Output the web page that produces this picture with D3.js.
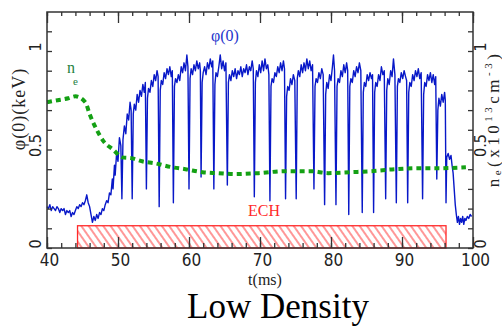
<!DOCTYPE html>
<html><head><meta charset="utf-8">
<script src="https://cdn.jsdelivr.net/npm/d3@7"></script>
<style>
body{margin:0;background:#fff}svg{display:block}
.serif{font-family:"Liberation Serif","Times New Roman",Times,"DejaVu Serif",serif}
.narrow{font-family:"Liberation Sans Narrow","DejaVu Sans Condensed","Liberation Sans",sans-serif}
</style>
</head><body><svg id="c" width="502" height="326"></svg>
<script>
// ---- data ----
const timeTicks = [40, 50, 60, 70, 80, 90, 100];
const timeMinorTicks = [40,42,44,46,48,50,52,54,56,58,60,62,64,66,68,70,72,74,76,78,80,82,84,86,88,90,92,94,96,98,100];
const valueTicks = [0, 0.5, 1];
const valueMinorTicks = [0,0.1,0.2,0.3,0.4,0.5,0.6,0.7,0.8,0.9,1.0,1.1];
const echWindow = [44.3, 96.2];
const echLevel = 0.113;
const neT = [40, 41.5, 43, 44, 45.4, 46, 47, 48, 49.3, 50.6, 52, 53.4, 55.2, 57.6, 59.5, 61.9, 64.1, 66.5, 69.8, 73.5, 77.2, 79.6, 82.9, 85.7, 89, 92.7, 95.1, 99];
const neV = [.74, .75, .76, .77, .74, .68, .60, .54, .50, .46, .455, .44, .43, .41, .40, .385, .38, .375, .38, .39, .39, .38, .385, .39, .40, .405, .405, .41];
const phiData = [
[40.0,.21],[40.2,.20],[40.4,.22],[40.6,.19],[40.8,.21],[41.0,.20],[41.2,.19],[41.4,.21],[41.6,.20],[41.8,.18],
[42.0,.20],[42.2,.19],[42.4,.20],[42.6,.17],[42.8,.19],[43.0,.18],[43.2,.19],[43.4,.16],[43.6,.18],[43.8,.17],
[44.0,.19],[44.2,.21],[44.4,.20],[44.6,.22],[44.8,.21],[45.0,.23],[45.2,.22],[45.4,.24],[45.6,.27],[45.8,.23],
[46.0,.21],[46.2,.17],[46.4,.13],[46.6,.16],[46.8,.14],[47.0,.17],[47.2,.15],[47.4,.18],[47.6,.17],[47.8,.20],
[48.0,.19],[48.2,.22],[48.4,.24],[48.6,.23],[48.8,.28],[49.0,.27],[49.2,.35],[49.3,.30],[49.5,.42],[49.6,.37],
[49.8,.48],[50.0,.44],[50.2,.56],[50.4,.52],[50.55,.25],[50.7,.55],[50.9,.62],[51.1,.58],[51.3,.68],[51.5,.65],
[51.7,.74],[51.85,.70],[52.0,.25],[52.15,.68],[52.3,.73],[52.5,.70],[52.7,.78],[52.9,.74],[53.1,.80],[53.3,.77],
[53.5,.83],[53.7,.79],[53.85,.84],[54.0,.30],[54.15,.76],[54.3,.81],[54.5,.79],[54.7,.85],[54.9,.82],[55.1,.88],
[55.3,.85],[55.5,.90],[55.65,.87],[55.8,.21],[55.95,.80],[56.1,.85],[56.3,.83],[56.5,.89],[56.7,.86],[56.9,.91],
[57.1,.88],[57.3,.92],[57.5,.87],[57.65,.90],[57.8,.23],[57.95,.82],[58.1,.86],[58.3,.84],[58.5,.88],[58.7,.85],
[58.9,.92],[59.1,.89],[59.3,.94],[59.5,.90],[59.7,.98],[59.85,.92],[60.0,.30],[60.15,.86],[60.3,.91],[60.5,.88],
[60.7,.93],[60.9,.90],[61.1,.95],[61.3,.91],[61.5,.94],[61.6,.90],[61.7,.36],[61.85,.84],[62.0,.89],[62.2,.92],
[62.4,.88],[62.6,.94],[62.8,.91],[63.0,.96],[63.2,.92],[63.35,.95],[63.5,.30],[63.65,.83],[63.8,.89],[64.0,.87],
[64.2,.92],[64.4,.98],[64.6,.91],[64.8,.95],[65.0,.90],[65.2,.94],[65.4,.32],[65.55,.84],[65.7,.88],[65.9,.85],
[66.1,.90],[66.3,.87],[66.5,.91],[66.7,.86],[66.9,.90],[67.1,.88],[67.3,.92],[67.5,.87],[67.7,.91],[67.9,.89],
[68.1,.93],[68.3,.88],[68.5,.92],[68.7,.90],[68.9,.95],[69.05,.91],[69.2,.26],[69.35,.84],[69.5,.90],[69.7,.87],
[69.9,.93],[70.1,.89],[70.3,.95],[70.5,.90],[70.7,.96],[70.9,.91],[71.1,.93],[71.25,.88],[71.4,.24],[71.55,.82],
[71.7,.86],[71.9,.84],[72.1,.89],[72.3,.87],[72.5,.92],[72.7,.89],[72.9,.94],[73.1,.90],[73.3,.95],[73.45,.91],
[73.6,.25],[73.75,.77],[73.9,.82],[74.1,.80],[74.3,.86],[74.5,.83],[74.7,.88],[74.9,.85],[75.1,.25],[75.25,.86],
[75.4,.90],[75.6,.87],[75.8,.93],[76.0,.89],[76.2,.94],[76.4,.90],[76.6,.96],[76.8,.91],[77.0,.95],[77.2,.90],
[77.4,.93],[77.6,.30],[77.75,.82],[77.9,.86],[78.1,.84],[78.3,.89],[78.5,.86],[78.7,.91],[78.9,.88],[79.1,.22],
[79.25,.78],[79.4,.84],[79.6,.81],[79.8,.88],[80.0,.85],[80.2,.92],[80.35,.98],[80.5,.90],[80.7,.22],[80.85,.82],
[81.0,.86],[81.2,.84],[81.4,.90],[81.6,.87],[81.8,.93],[82.0,.89],[82.2,.94],[82.35,.90],[82.5,.17],[82.65,.82],
[82.8,.86],[83.0,.84],[83.2,.90],[83.4,.87],[83.6,.92],[83.8,.89],[84.0,.94],[84.2,.90],[84.4,.18],[84.55,.79],
[84.7,.84],[84.9,.82],[85.1,.88],[85.3,.85],[85.5,.89],[85.7,.86],[85.85,.88],[86.0,.18],[86.15,.79],[86.3,.84],
[86.5,.82],[86.7,.88],[86.9,.85],[87.1,.92],[87.3,.88],[87.5,.90],[87.7,.25],[87.85,.80],[88.0,.86],[88.2,.83],
[88.4,.90],[88.6,.87],[88.8,.96],[89.0,.88],[89.2,.23],[89.35,.82],[89.5,.86],[89.7,.84],[89.9,.89],[90.1,.86],
[90.3,.90],[90.5,.87],[90.65,.85],[90.8,.23],[90.95,.79],[91.1,.84],[91.3,.82],[91.5,.88],[91.7,.85],[91.9,.90],
[92.1,.87],[92.3,.91],[92.5,.86],[92.7,.89],[92.9,.25],[93.05,.78],[93.2,.84],[93.4,.82],[93.6,.88],[93.8,.85],
[94.0,.89],[94.2,.84],[94.4,.88],[94.6,.83],[94.75,.87],[94.9,.35],[95.05,.70],[95.2,.76],[95.4,.72],[95.6,.78],
[95.8,.74],[96.0,.79],[96.1,.75],[96.2,.23],[96.3,.46],[96.5,.48],[96.7,.45],[96.9,.47],[97.05,.42],[97.2,.38],
[97.35,.30],[97.5,.22],[97.65,.17],[97.8,.13],[97.95,.16],[98.1,.12],[98.25,.15],[98.4,.13],[98.55,.16],[98.7,.12],
[98.85,.15],[99.0,.14],[99.2,.16],[99.4,.15],[99.6,.17],[99.8,.16]
];

// ---- layout ----
const L = 47, R = 473, T = 12, B = 248;
const svg = d3.select("#c");
const x = d3.scaleLinear().domain([40, 100]).range([L, R]);
const y = d3.scaleLinear().domain([0, 1]).range([B, 51]);
const axisColor = "#333";

// hatch pattern
const defs = svg.append("defs");
defs.append("pattern").attr("id", "hatch").attr("patternUnits", "userSpaceOnUse")
  .attr("width", 6).attr("height", 10).attr("patternTransform", "rotate(-35)")
  .append("line").attr("x1", 3).attr("y1", 0).attr("x2", 3).attr("y2", 10)
  .attr("stroke", "#ff3030").attr("stroke-width", 1);

// ECH box
svg.append("rect")
  .attr("x", x(echWindow[0])).attr("y", y(echLevel))
  .attr("width", x(echWindow[1]) - x(echWindow[0])).attr("height", y(0) - y(echLevel))
  .attr("fill", "url(#hatch)").attr("stroke", "#ff2a2a").attr("stroke-width", 1.3);

// phi trace
svg.append("path").datum(phiData)
  .attr("d", d3.line().x(d => x(d[0])).y(d => y(d[1])))
  .attr("fill", "none").attr("stroke", "#0818c8").attr("stroke-width", 1.4)
  .attr("stroke-linejoin", "round");

// ne trace
svg.append("path").datum(neT.map((t, i) => [t, neV[i]]))
  .attr("d", d3.line().curve(d3.curveMonotoneX).x(d => x(d[0])).y(d => y(d[1])))
  .attr("fill", "none").attr("stroke", "#14a014").attr("stroke-width", 4)
  .attr("stroke-dasharray", "5 4");

// frame
svg.append("rect").attr("x", L).attr("y", T).attr("width", R - L).attr("height", B - T)
  .attr("fill", "none").attr("stroke", axisColor).attr("stroke-width", 1.5);

function styleAxis(g) {
  g.select(".domain").remove();
  g.selectAll(".tick line").attr("stroke", axisColor).attr("stroke-width", 1.3);
}
// bottom
svg.append("g").attr("transform", `translate(0,${B})`)
  .call(d3.axisBottom(x).tickValues(timeMinorTicks).tickSize(-5).tickFormat(""))
  .call(styleAxis);
svg.append("g").attr("transform", `translate(0,${B})`)
  .call(d3.axisBottom(x).tickValues(timeTicks).tickSize(-11).tickPadding(5).tickFormat(d3.format("d")))
  .call(styleAxis)
  .call(g => g.attr("font-family", null).attr("font-size", null))
  .call(g => g.selectAll(".tick text").attr("class", "narrow").style("font-size", "17px")
    .attr("fill", "#222").attr("dx", 2).attr("y", 6));
// top
svg.append("g").attr("transform", `translate(0,${T})`)
  .call(d3.axisTop(x).tickValues(timeMinorTicks).tickSize(-4).tickFormat(""))
  .call(styleAxis);
svg.append("g").attr("transform", `translate(0,${T})`)
  .call(d3.axisTop(x).tickValues(timeTicks).tickSize(-11).tickFormat(""))
  .call(styleAxis);
// left / right minor ticks
svg.append("g").attr("transform", `translate(${L},0)`)
  .call(d3.axisLeft(y).tickValues(valueMinorTicks).tickSize(-5).tickFormat(""))
  .call(styleAxis);
svg.append("g").attr("transform", `translate(${R},0)`)
  .call(d3.axisRight(y).tickValues(valueMinorTicks).tickSize(-5).tickFormat(""))
  .call(styleAxis);

// rotated value labels
const fmt = d => d === 0.5 ? "0.5" : d3.format("d")(d);
svg.append("g").selectAll("text").data(valueTicks).join("text")
  .attr("class", "narrow")
  .attr("transform", d => `translate(41,${y(d) - 4}) rotate(-90)`)
  .attr("text-anchor", "middle").style("font-size", "16px")
  .attr("fill", "#222").text(fmt);
svg.append("g").selectAll("text").data(valueTicks).join("text")
  .attr("class", "narrow")
  .attr("transform", d => `translate(486,${y(d) - 4}) rotate(-90)`)
  .attr("text-anchor", "middle").style("font-size", "16px")
  .attr("fill", "#222").text(fmt);

// axis titles
svg.append("text").attr("class", "serif").attr("transform", "translate(25,109) rotate(-90)")
  .attr("text-anchor", "middle").style("font-size", "18px")
  .attr("fill", "#222").attr("letter-spacing", 1).text("φ(0)(keV)");
const rt = svg.append("text").attr("class", "serif").attr("transform", "translate(499,119) rotate(-90)")
  .attr("text-anchor", "middle").style("font-size", "17px")
  .attr("fill", "#222").attr("letter-spacing", 3.5);
rt.append("tspan").text("n");
rt.append("tspan").style("font-size", "11px").attr("dy", 2).text("e");
rt.append("tspan").attr("dy", -2).text("(x10");
rt.append("tspan").style("font-size", "11px").attr("dy", -7).text("13");
rt.append("tspan").attr("dy", 7).text("cm");
rt.append("tspan").style("font-size", "11px").attr("dy", -7).text("-3");
rt.append("tspan").attr("dy", 7).text(")");

svg.append("text").attr("class", "serif").attr("x", 265).attr("y", 285).attr("text-anchor", "middle")
  .style("font-size", "16px").attr("fill", "#222").text("t(ms)");
svg.append("text").attr("class", "serif").attr("x", 278).attr("y", 318).attr("text-anchor", "middle")
  .style("font-size", "35px").attr("fill", "#000").text("Low Density");

// in-plot labels
svg.append("text").attr("class", "serif").attr("x", 264).attr("y", 216).attr("text-anchor", "middle")
  .style("font-size", "16px").attr("fill", "#ff2a2a").text("ECH");
svg.append("text").attr("class", "serif").attr("x", 225).attr("y", 41).attr("text-anchor", "middle")
  .style("font-size", "16px").attr("fill", "#2233cc").text("φ(0)");
svg.append("text").attr("class", "serif").attr("x", 67).attr("y", 73)
  .style("font-size", "16px").attr("fill", "#1f7f3f").text("n");
svg.append("text").attr("class", "serif").attr("x", 73).attr("y", 85)
  .style("font-size", "11px").attr("fill", "#1f7f3f").text("e");
</script></body></html>
